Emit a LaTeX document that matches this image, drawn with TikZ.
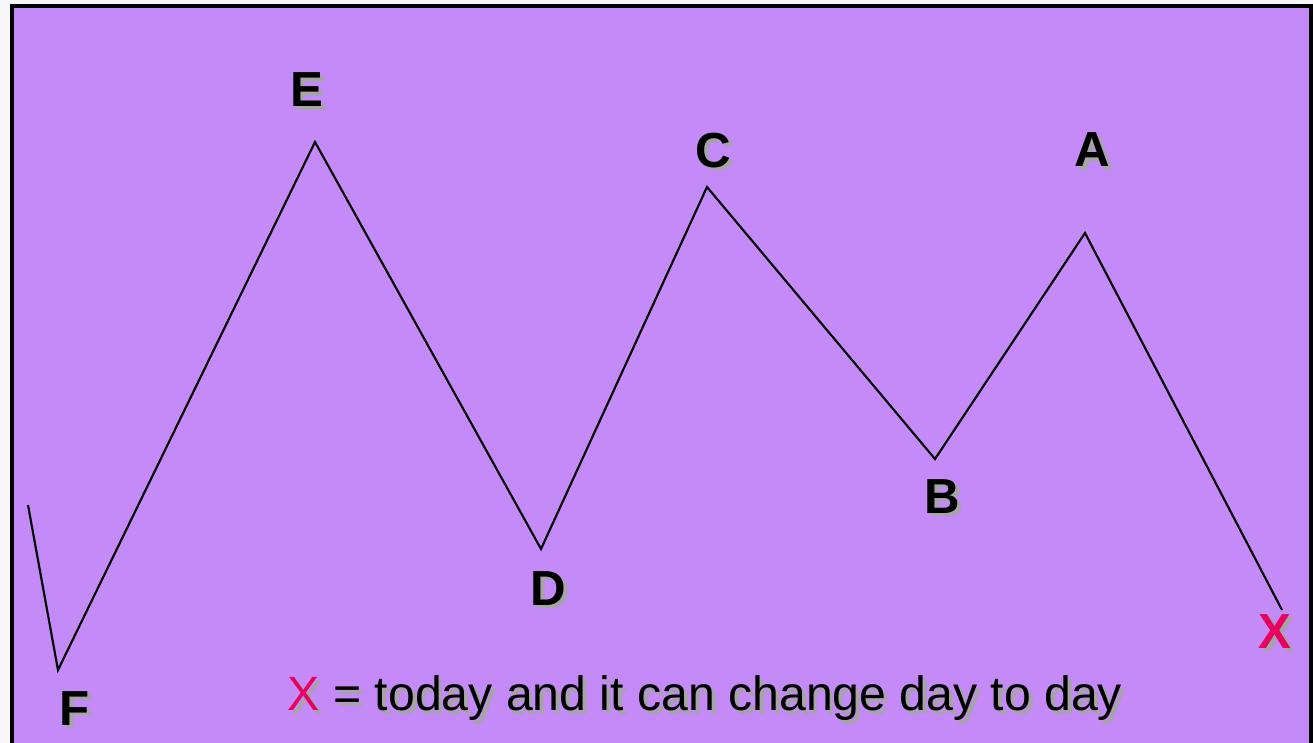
\documentclass[tikz,border=0pt]{standalone}
\usepackage{fontspec}
\setmainfont{Liberation Sans}
\usetikzlibrary{positioning}
\definecolor{lilac}{RGB}{196,138,248}
\definecolor{rose}{RGB}{232,0,96}
\definecolor{shade}{RGB}{165,165,165}
\newcommand\shtext[1]{\rlap{\hspace{1.1pt}\raisebox{-1.1pt}{\color{shade}#1}}#1}
\tikzset{
  wave/.style={draw=black,line width=0.6pt,line join=miter},
  pt/.style={font=\fontsize{14}{16}\selectfont\bfseries,inner sep=0pt},
  note/.style={font=\fontsize{13.7}{16}\selectfont,inner sep=0pt},
}
\begin{document}
\begin{tikzpicture}[x=0.01cm,y=-0.01cm]
    \useasboundingbox (0,0) rectangle (1313,743);
    \fill[white!97!black] (0,0) rectangle (1313,743);
    \draw[fill=lilac,line width=1.2pt] (12,6) rectangle (1311,770);
    % turning points
    \coordinate (s) at (28,505);
    \coordinate (f) at (58,670);
    \coordinate (e) at (315,142);
    \coordinate (d) at (541,549);
    \coordinate (c) at (707,187);
    \coordinate (b) at (935,459);
    \coordinate (a) at (1085,233);
    \coordinate (x) at (1282,610);
    \draw[wave] (s) -- (f) -- (e) -- (d) -- (c) -- (b) -- (a) -- (x);
    \node[pt] (lf) at (75,710) {\shtext{F}};
    \node[pt] (le) at (307,92) {\shtext{E}};
    \node[pt] (ld) at (548,590) {\shtext{D}};
    \node[pt] (lc) at (713,152) {\shtext{C}};
    \node[pt] (lb) at (942,498) {\shtext{B}};
    \node[pt] (la) at (1092,152) {\shtext{A}};
    \node[pt,text=rose] (lx) at (1275,633) {\shtext{X}};
    \node[note] (key) at (705,700) {{\color{rose}\shtext{X}} \shtext{= today and it can change day to day}};
  \end{tikzpicture}
\end{document}
